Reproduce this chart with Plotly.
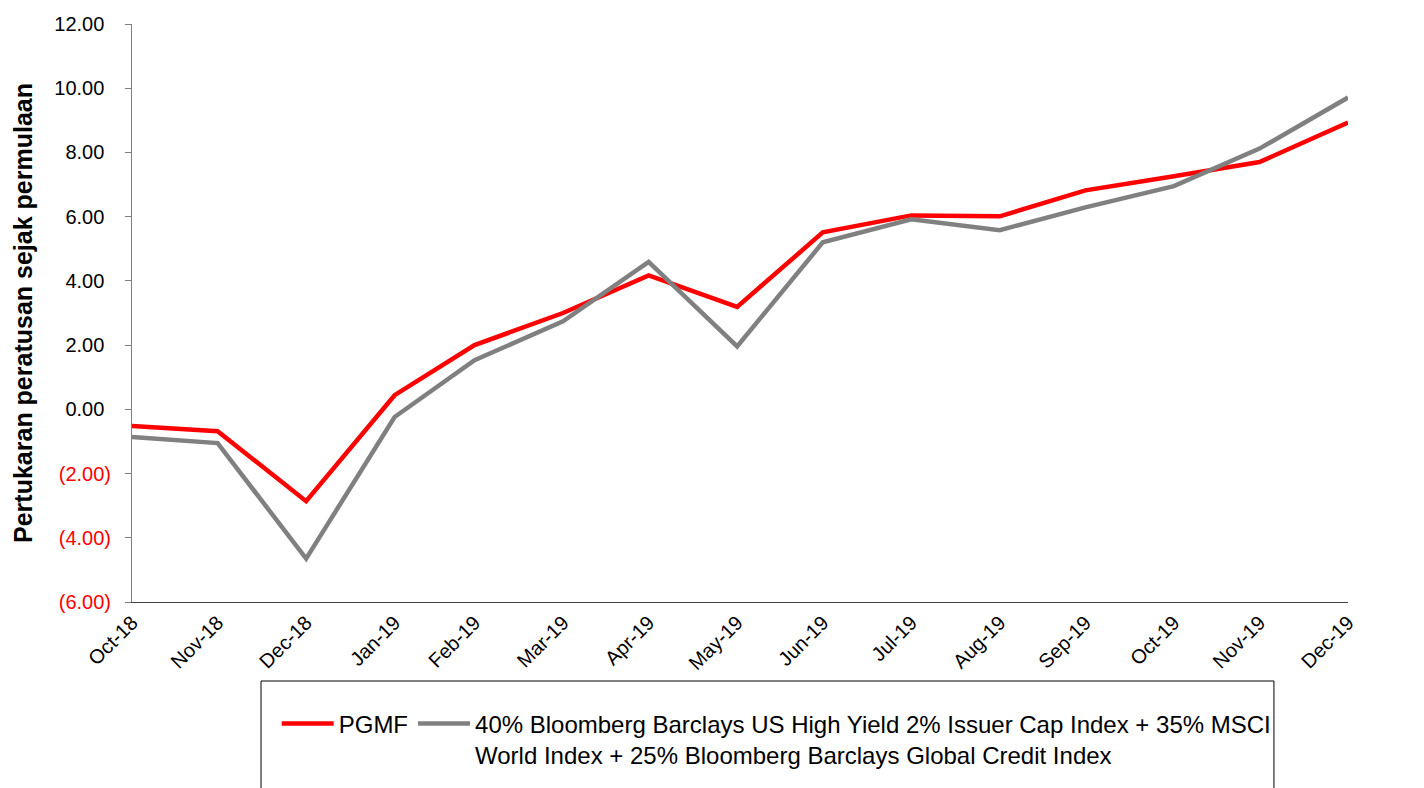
import plotly.graph_objects as go

months = ["Oct-18", "Nov-18", "Dec-18", "Jan-19", "Feb-19", "Mar-19", "Apr-19", "May-19",
          "Jun-19", "Jul-19", "Aug-19", "Sep-19", "Oct-19", "Nov-19", "Dec-19"]
month_end = ["2018-10-31", "2018-11-30", "2018-12-31", "2019-01-31", "2019-02-28", "2019-03-31",
             "2019-04-30", "2019-05-31", "2019-06-30", "2019-07-31", "2019-08-31", "2019-09-30",
             "2019-10-31", "2019-11-30", "2019-12-31"]
pgmf = [-0.52, -0.68, -2.86, 0.44, 2.00, 3.00, 4.17, 3.19, 5.51, 6.04, 6.01, 6.82, 7.26, 7.70, 8.93]
bench = [-0.86, -1.05, -4.65, -0.24, 1.53, 2.74, 4.59, 1.96, 5.20, 5.92, 5.58, 6.29, 6.95, 8.12, 9.71]

tick_vals = [12, 10, 8, 6, 4, 2, 0, -2, -4, -6]

def fmt(v):
    if v < 0:
        return '<span style="color:#ff0000">(%.2f)</span>' % abs(v)
    return '%.2f<span style="color:rgba(0,0,0,0)">)</span>' % v

tick_text = [fmt(v) for v in tick_vals]

FONT = "Liberation Sans, Arial, sans-serif"

fig = go.Figure()
fig.add_trace(go.Scatter(x=month_end, y=pgmf, mode="lines", name="PGMF",
                         line=dict(color="#ff0000", width=4.5)))
fig.add_trace(go.Scatter(
    x=month_end, y=bench, mode="lines",
    name="40% Bloomberg Barclays US High Yield 2% Issuer Cap Index + 35% MSCI<br>World Index + 25% Bloomberg Barclays Global Credit Index",
    line=dict(color="#808080", width=4.5)))

yax = dict(range=[-6, 12], tickvals=tick_vals, ticktext=tick_text, showgrid=False,
           zeroline=False, showline=True, ticks="outside", ticklen=6, tickwidth=1,
           automargin=False,
           tickfont=dict(family=FONT, size=20, color="#000000"))

fig.update_layout(
    width=1416, height=780,
    margin=dict(l=124, r=76, t=16, b=186, autoexpand=False),
    paper_bgcolor="white", plot_bgcolor="white",
    font=dict(family=FONT, size=20, color="#000000"),
    xaxis=dict(type="date", range=[month_end[0], month_end[-1]], showgrid=False,
               zeroline=False, tickvals=month_end, ticktext=months,
               showline=True, linecolor="#404040", linewidth=1, ticks="",
               automargin=False,
               tickangle=-45, tickfont=dict(family=FONT, size=20, color="#000000")),
    yaxis=dict(**yax, linecolor="#7f7f7f", tickcolor="#7f7f7f", ticklabelstandoff=10,
               title=dict(text="<b>Pertukaran peratusan sejak permulaan</b>",
                          font=dict(family=FONT, size=25, color="#000000"), standoff=14)),
    yaxis2=dict(**yax, overlaying="y", side="right", linecolor="#a0a0a0",
                tickcolor="#a0a0a0", ticklabelstandoff=6),
    showlegend=True,
    legend=dict(orientation="h", x=0.119, xanchor="left", y=-0.172, yanchor="top",
                valign="top", font=dict(family=FONT, size=24, color="#000000"),
                bgcolor="rgba(0,0,0,0)", borderwidth=0, itemwidth=52),
    shapes=[dict(type="rect", xref="paper", yref="paper", x0=0.1061, x1=0.9391,
                 y0=-0.1367, y1=-0.40, line=dict(color="#000000", width=1),
                 fillcolor="rgba(0,0,0,0)", layer="above")],
)

fig.write_html("out.html")
